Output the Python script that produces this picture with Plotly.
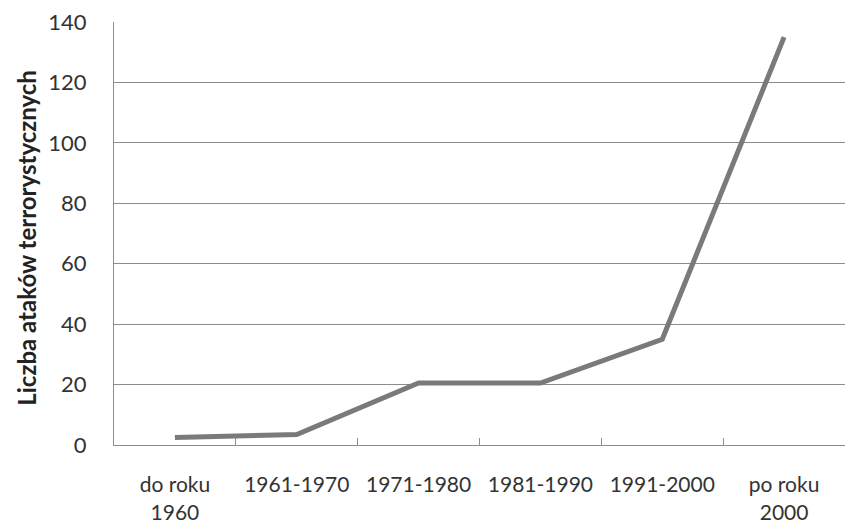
import plotly.graph_objects as go

categories = ["do roku<br>1960", "1961-1970", "1971-1980", "1981-1990", "1991-2000", "po roku<br>2000"]
values = [2.5, 3.5, 20.5, 20.5, 35, 135]
y_ticks = [0, 20, 40, 60, 80, 100, 120, 140]
y_title = "Liczba ataków terrorystycznych"

FONT = "Lato, Open Sans, sans-serif"

fig = go.Figure()
fig.add_trace(go.Scatter(
    x=categories, y=values, mode="lines",
    line=dict(color="#7a7a7a", width=5),
    hoverinfo="skip", showlegend=False,
))

fig.update_layout(
    width=846, height=528,
    margin=dict(l=114, r=1, t=22, b=83),
    paper_bgcolor="white", plot_bgcolor="white",
    font=dict(family=FONT, size=22, color="#333333"),
    xaxis=dict(
        type="category", range=[-0.5, 5.5], automargin=False,
        showgrid=False, showline=True, linecolor="#8c8c8c", linewidth=1,
        ticks="inside", ticklen=7, tickcolor="#8c8c8c", tickson="boundaries",
        ticklabelstandoff=21, tickfont=dict(size=21, color="#333333"),
        fixedrange=True, zeroline=False,
    ),
    yaxis=dict(
        range=[0, 140], tickvals=y_ticks, automargin=False,
        showgrid=True, gridcolor="#8c8c8c", gridwidth=1,
        showline=True, linecolor="#8c8c8c", linewidth=1,
        ticks="", ticklabelstandoff=22, tickfont=dict(size=22, color="#333333"),
        zeroline=False, fixedrange=True,
    ),
    annotations=[dict(
        text=y_title, xref="paper", yref="paper", x=0, y=0.49,
        xanchor="center", yanchor="middle", xshift=-87, textangle=-90,
        showarrow=False, font=dict(family=FONT, size=24, color="#222222", weight="bold"),
    )],
)

fig.write_html(
    "out.html",
    config={"displayModeBar": False, "staticPlot": True},
    post_script="document.body.style.margin='0';document.body.style.overflow='hidden';",
)
